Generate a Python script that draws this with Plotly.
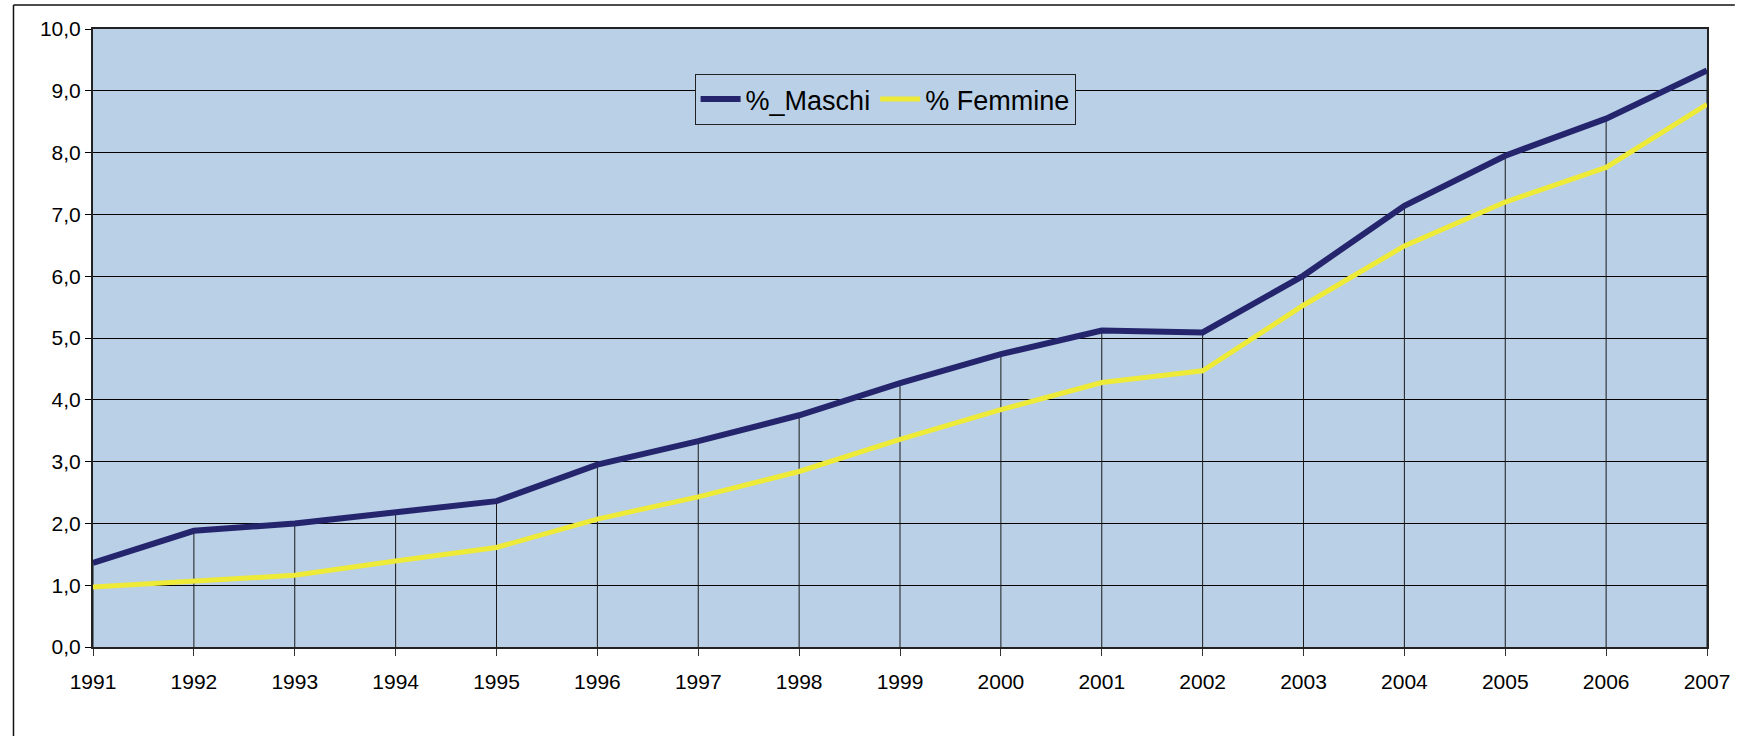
import plotly.graph_objects as go

years = list(range(1991, 2008))
maschi = [1.36, 1.88, 2.00, 2.17, 2.36, 2.95, 3.33, 3.75, 4.27, 4.74, 5.12, 5.09, 6.01, 7.14, 7.95, 8.55, 9.33]
femmine = [0.97, 1.07, 1.16, 1.39, 1.61, 2.07, 2.43, 2.84, 3.36, 3.84, 4.28, 4.47, 5.53, 6.49, 7.20, 7.76, 8.78]
y_ticks = [0, 1, 2, 3, 4, 5, 6, 7, 8, 9, 10]

W, H = 1742, 736
L, R, T, B = 93, 1717, 29, 647

def px(xp):
    return (xp - L) / (R - L)

def py(yp):
    return (B - yp) / (B - T)

# drop lines from the higher series down to the axis
drop_x, drop_y = [], []
for yr, m, f in zip(years, maschi, femmine):
    drop_x += [yr, yr, None]
    drop_y += [0, max(m, f), None]

fig = go.Figure()
fig.add_trace(go.Scatter(x=drop_x, y=drop_y, mode="lines",
                         line=dict(color="#1a1a1a", width=1),
                         showlegend=False, hoverinfo="skip"))
fig.add_trace(go.Scatter(x=years, y=maschi, mode="lines", name="%_Maschi",
                         line=dict(color="#25256E", width=6)))
fig.add_trace(go.Scatter(x=years, y=femmine, mode="lines", name="% Femmine",
                         line=dict(color="#EEEA38", width=5)))

fig.update_layout(
    width=W, height=H,
    margin=dict(l=L, r=W - R, t=T, b=H - B, pad=0),
    paper_bgcolor="white",
    plot_bgcolor="#B9D0E6",
    separators=",.",
    font=dict(family="Liberation Sans, Arial, sans-serif", size=21, color="black"),
    legend=dict(
        x=px(890), y=py(74), xanchor="center", yanchor="top",
        orientation="h", bgcolor="#B9D0E6", bordercolor="#222222", borderwidth=1,
        font=dict(size=27, family="Liberation Sans, Arial, sans-serif"),
        itemwidth=40, tracegroupgap=0,
    ),
    xaxis=dict(
        range=[1991, 2007], tickmode="array", tickvals=years,
        ticktext=[str(y) for y in years],
        showgrid=False, zeroline=False,
        ticks="outside", ticklen=7, tickcolor="#333333", tickwidth=1,
        showline=True, linecolor="#222222", linewidth=2, mirror=True,
        tickfont=dict(size=21),
        ticklabelstandoff=8,
    ),
    yaxis=dict(
        range=[0, 10], tickmode="array", tickvals=y_ticks,
        tickformat=".1f",
        showgrid=True, gridcolor="black", gridwidth=1, zeroline=False,
        ticks="outside", ticklen=6, tickcolor="black", tickwidth=1,
        showline=True, linecolor="#222222", linewidth=2, mirror=True,
        tickfont=dict(size=21),
        ticklabelstandoff=0,
    ),
    shapes=[
        dict(type="line", xref="paper", yref="paper",
             x0=px(13), x1=px(13), y0=py(740), y1=py(5),
             line=dict(color="#111111", width=1.5), layer="above"),
        dict(type="line", xref="paper", yref="paper",
             x0=px(13), x1=px(1745), y0=py(5), y1=py(5),
             line=dict(color="#111111", width=1.5), layer="above"),
    ],
)

fig.write_html("out.html", config={"displayModeBar": False},
               post_script="document.body.style.margin='0';")
